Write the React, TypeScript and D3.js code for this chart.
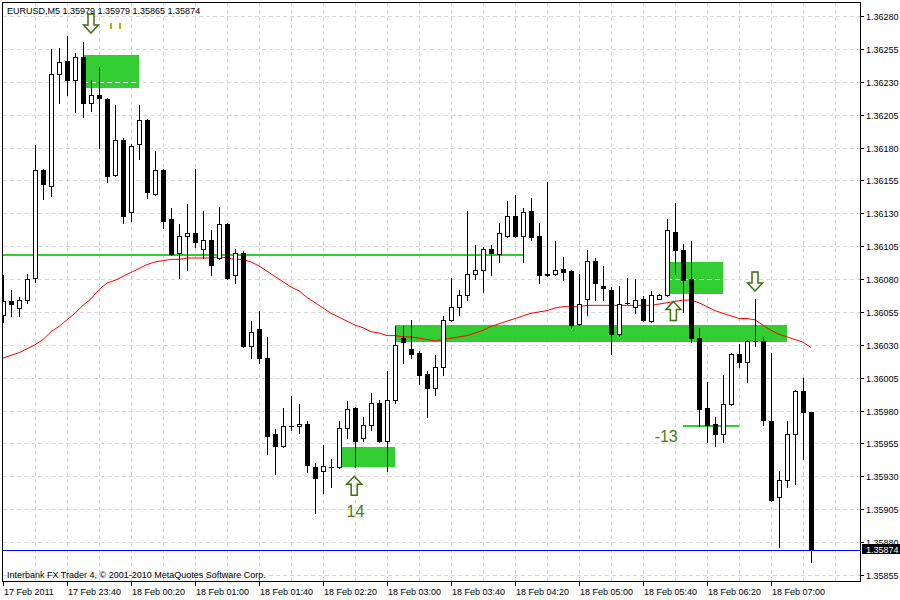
import React from "react";
import * as d3 from "d3";

const symbol = "EURUSD,M5";
const opens = [1.36053,1.36063,1.36058,1.36064,1.36081,1.36163,1.36151,1.36236,1.36246,1.36231,1.36249,1.36214,1.36220,1.36217,1.36159,1.36186,1.36131,1.36183,1.36201,1.36145,1.36163,1.36126,1.36100,1.36113,1.36115,1.36103,1.36110,1.36096,1.36122,1.36083,1.36100,1.36029,1.36042,1.36020,1.35962,1.35953,1.35968,1.35968,1.35970,1.35937,1.35934,1.35937,1.35937,1.35967,1.35982,1.35959,1.35969,1.35986,1.35957,1.35988,1.36035,1.36027,1.36024,1.36008,1.35997,1.36013,1.36049,1.36059,1.36068,1.36084,1.36087,1.36103,1.36099,1.36113,1.36128,1.36113,1.36132,1.36113,1.36084,1.36084,1.36088,1.36086,1.36046,1.36065,1.36094,1.36075,1.36072,1.36038,1.36062,1.36059,1.36065,1.36048,1.36065,1.36068,1.36116,1.36102,1.36080,1.36035,1.35982,1.35970,1.35962,1.35985,1.36023,1.36017,1.36033,1.36033,1.35972,1.35914,1.35927,1.35962,1.35995,1.35979];
const highs = [1.36083,1.36072,1.36066,1.36084,1.36182,1.36164,1.36255,1.36256,1.36265,1.36252,1.36260,1.36231,1.36241,1.36218,1.36212,1.36187,1.36183,1.36212,1.36202,1.36177,1.36164,1.36134,1.36122,1.36137,1.36164,1.36132,1.36117,1.36135,1.36123,1.36103,1.36101,1.36048,1.36056,1.36036,1.35966,1.35982,1.35991,1.35985,1.35972,1.35940,1.35954,1.35943,1.35972,1.35987,1.35983,1.35975,1.35993,1.35988,1.36010,1.36044,1.36044,1.36049,1.36025,1.36010,1.36022,1.36052,1.36081,1.36072,1.36132,1.36106,1.36104,1.36106,1.36123,1.36139,1.36144,1.36134,1.36142,1.36123,1.36154,1.36109,1.36097,1.36087,1.36084,1.36102,1.36096,1.36090,1.36074,1.36075,1.36081,1.36080,1.36067,1.36071,1.36069,1.36126,1.36138,1.36107,1.36109,1.36043,1.36002,1.35975,1.36007,1.36024,1.36031,1.36034,1.36065,1.36036,1.36024,1.35934,1.35972,1.35996,1.36005,1.35979];
const lows = [1.36047,1.36052,1.36052,1.36062,1.36078,1.36141,1.36143,1.36214,1.36220,1.36207,1.36203,1.36208,1.36180,1.36154,1.36158,1.36123,1.36124,1.36171,1.36142,1.36144,1.36119,1.36098,1.36081,1.36087,1.36104,1.36096,1.36083,1.36095,1.36080,1.36077,1.36028,1.36020,1.36016,1.35947,1.35932,1.35952,1.35965,1.35963,1.35933,1.35902,1.35917,1.35922,1.35936,1.35959,1.35937,1.35957,1.35965,1.35956,1.35934,1.35986,1.36016,1.36020,1.36000,1.35975,1.35992,1.36007,1.36048,1.36053,1.36064,1.36080,1.36070,1.36083,1.36093,1.36112,1.36112,1.36093,1.36110,1.36077,1.36082,1.36083,1.36079,1.36043,1.36045,1.36053,1.36064,1.36064,1.36023,1.36037,1.36061,1.36054,1.36048,1.36047,1.36065,1.36067,1.36084,1.36055,1.36032,1.35968,1.35956,1.35953,1.35956,1.35984,1.36013,1.36002,1.36029,1.35969,1.35911,1.35876,1.35922,1.35924,1.35943,1.35865];
const closes = [1.36063,1.36061,1.36064,1.36080,1.36163,1.36152,1.36236,1.36245,1.36231,1.36249,1.36214,1.36220,1.36218,1.36158,1.36186,1.36128,1.36181,1.36201,1.36146,1.36163,1.36124,1.36099,1.36113,1.36115,1.36108,1.36110,1.36091,1.36122,1.36081,1.36100,1.36029,1.36040,1.36020,1.35961,1.35953,1.35968,1.35968,1.35970,1.35939,1.35929,1.35938,1.35937,1.35967,1.35981,1.35957,1.35969,1.35986,1.35957,1.35988,1.36030,1.36032,1.36023,1.36007,1.35997,1.36013,1.36049,1.36059,1.36068,1.36084,1.36087,1.36103,1.36100,1.36115,1.36128,1.36113,1.36131,1.36112,1.36083,1.36083,1.36087,1.36085,1.36045,1.36061,1.36094,1.36077,1.36073,1.36038,1.36061,1.36062,1.36064,1.36049,1.36068,1.36068,1.36117,1.36102,1.36079,1.36035,1.35981,1.35969,1.35962,1.35985,1.36023,1.36017,1.36033,1.36033,1.35973,1.35912,1.35927,1.35962,1.35995,1.35979,1.35874];
const maValues = [1.36020,1.36022,1.36024,1.36027,1.36030,1.36034,1.36040,1.36044,1.36049,1.36054,1.36060,1.36065,1.36072,1.36077,1.36079,1.36082,1.36085,1.36088,1.36091,1.36093,1.36094,1.36095,1.36095,1.36096,1.36096,1.36096,1.36096,1.36097,1.36096,1.36095,1.36095,1.36093,1.36090,1.36086,1.36082,1.36078,1.36074,1.36071,1.36066,1.36062,1.36058,1.36054,1.36051,1.36048,1.36045,1.36043,1.36040,1.36039,1.36037,1.36037,1.36036,1.36036,1.36035,1.36034,1.36033,1.36034,1.36035,1.36036,1.36037,1.36039,1.36041,1.36044,1.36046,1.36048,1.36050,1.36052,1.36054,1.36055,1.36056,1.36058,1.36059,1.36059,1.36059,1.36060,1.36060,1.36060,1.36060,1.36060,1.36060,1.36060,1.36060,1.36060,1.36061,1.36062,1.36063,1.36064,1.36064,1.36062,1.36059,1.36056,1.36054,1.36052,1.36050,1.36050,1.36049,1.36045,1.36041,1.36038,1.36036,1.36034,1.36032,1.36028];

const timeLabels = ["17 Feb 2011","17 Feb 23:40","18 Feb 00:20","18 Feb 01:00","18 Feb 01:40","18 Feb 02:20","18 Feb 03:00","18 Feb 03:40","18 Feb 04:20","18 Feb 05:00","18 Feb 05:40","18 Feb 06:20","18 Feb 07:00"];
const timeLabelIndex = [0,8,16,24,32,40,48,56,64,72,80,88,96];
const priceTicks = [1.36280,1.36255,1.36230,1.36205,1.36180,1.36155,1.36130,1.36105,1.36080,1.36055,1.36030,1.36005,1.35980,1.35955,1.35930,1.35905,1.35880,1.35855];

const zoneStart = [10, 42, 49, 83];
const zoneEnd = [17, 49, 98, 90];
const zoneTop = [1.36250, 1.35952, 1.36045, 1.36093];
const zoneBottom = [1.36225, 1.35937, 1.36032, 1.36069];
const zoneMid = [1.36230, null, null, 1.36080];

const levelPrice = 1.36098, levelFrom = -1, levelTo = 65;
const stopPrice = 1.35968, stopFrom = 85, stopTo = 92;

const arrowIndex = [11, 43.9, 83.8, 94];
const arrowPrice = [1.36267, 1.35930, 1.36063, 1.36071];
const arrowDir = ["down", "up", "up", "down"];
const pipText = ["14", "-13"];
const pipIndex = [44.06, 82.9];
const pipPrice = [1.35899, 1.35956];
const markIndex = [13.5, 14.6];
const markPrice = 1.36275;

const W = 900, H = 600;
const FONT = "'Liberation Sans', Arial, sans-serif";

export default function App() {
  const x = d3.scaleLinear().domain([0, 101]).range([3, 811]);
  const y = d3.scaleLinear().domain([1.35855, 1.3628]).range([575, 16]);
  const left = 2.5, top = 2.5, right = 860.5, bottom = 581.5;
  const px = (v: number) => Math.round(x(v));
  const py = (v: number) => Math.round(y(v));

  const vgrid: number[] = [];
  for (let v = 35; v < 860; v += 32) vgrid.push(v);

  const maLine = d3.line<number>().x((d, i) => x(i)).y((d) => y(d))(maValues) || "";
  const upArrow = "M0,0 L7.5,8 L3,8 L3,19 L-3,19 L-3,8 L-7.5,8 Z";
  const downArrow = "M0,0 L7.5,-8 L3,-8 L3,-19 L-3,-19 L-3,-8 L-7.5,-8 Z";
  const n = closes.length;
  const last = n - 1;
  const fmt = d3.format(".5f");
  const title = `${symbol}  ${fmt(opens[last])} ${fmt(highs[last])} ${fmt(lows[last])} ${fmt(closes[last])}`;
  const bidY = py(closes[last]);

  return (
    <svg width={W} height={H} style={{ position: "fixed", left: 0, top: 0, background: "#fff" }} fontFamily={FONT}>
      <rect x={0} y={0} width={W} height={H} fill="#fff" />
      <defs>
        <clipPath id="plot">
          <rect x={3} y={3} width={857} height={578} />
        </clipPath>
      </defs>
      {/* grid */}
      <g stroke="#d9d9d9" strokeWidth={1} strokeDasharray="4,3" shapeRendering="crispEdges">
        {vgrid.map((v) => (
          <line key={"v" + v} x1={v + 0.5} x2={v + 0.5} y1={top} y2={bottom} />
        ))}
        {priceTicks.map((p) => (
          <line key={"h" + p} x1={left} x2={right} y1={py(p) + 0.5} y2={py(p) + 0.5} />
        ))}
      </g>
      <g clipPath="url(#plot)">
        {/* zones */}
        {zoneStart.map((s, i) => (
          <rect key={"z" + i} x={px(s)} y={py(zoneTop[i])} width={px(zoneEnd[i]) - px(s)}
            height={py(zoneBottom[i]) - py(zoneTop[i])} fill="#32cd32" />
        ))}
        {zoneMid.map((m, i) =>
          m === null ? null : (
            <line key={"zm" + i} x1={px(zoneStart[i])} x2={px(zoneEnd[i])} y1={py(m) + 0.5} y2={py(m) + 0.5}
              stroke="#fff" strokeDasharray="5,3" shapeRendering="crispEdges" />
          )
        )}
        <line x1={x(levelFrom)} x2={x(levelTo)} y1={py(levelPrice)} y2={py(levelPrice)} stroke="#32cd32" strokeWidth={2} shapeRendering="crispEdges" />
        <line x1={x(stopFrom)} x2={x(stopTo)} y1={py(stopPrice)} y2={py(stopPrice)} stroke="#32cd32" strokeWidth={2} shapeRendering="crispEdges" />
        {/* moving average */}
        <path d={maLine} fill="none" stroke="#ff0000" strokeWidth={1} />
        {/* candles */}
        <g shapeRendering="crispEdges">
          {closes.map((c, i) => {
            const o = opens[i];
            const cx = px(i);
            const yh = py(highs[i]);
            const yl = py(lows[i]);
            const yt = py(Math.max(o, c));
            const yb = py(Math.min(o, c));
            const bull = c > o;
            return (
              <g key={"c" + i}>
                <line x1={cx + 0.5} x2={cx + 0.5} y1={yh} y2={yl + 1} stroke="#000" strokeWidth={1} />
                {yb - yt < 1 ? (
                  <line x1={cx - 2} x2={cx + 3} y1={yt + 0.5} y2={yt + 0.5} stroke="#000" strokeWidth={1} />
                ) : (
                  <rect x={cx - 2 + 0.5} y={yt + 0.5} width={4} height={yb - yt}
                    fill={bull ? "#fff" : "#000"} stroke="#000" strokeWidth={1} />
                )}
              </g>
            );
          })}
        </g>
        {/* bid line */}
        <line x1={left} x2={right} y1={bidY + 0.5} y2={bidY + 0.5} stroke="#0000ff" strokeWidth={1} shapeRendering="crispEdges" />
        {/* arrows */}
        {arrowIndex.map((a, i) => (
          <g key={"a" + i} transform={`translate(${x(a)},${y(arrowPrice[i])})`}>
            <path d={arrowDir[i] === "up" ? upArrow : downArrow} fill="#fff" stroke="#3f6f10" strokeWidth={1.5} strokeLinejoin="miter" />
          </g>
        ))}
        {markIndex.map((m, i) => (
          <rect key={"m" + i} x={px(m) - 1} y={py(markPrice)} width={2} height={6} fill="#b5b500" />
        ))}
        {pipText.map((t, i) => (
          <text key={"p" + i} x={x(pipIndex[i])} y={y(pipPrice[i])} textAnchor="middle" fontSize={16} fill="#4e7a0c">
            {t}
          </text>
        ))}
      </g>
      {/* title & footer */}
      <text x={7} y={14} fontSize={9} fill="#000">{title}</text>
      <text x={7} y={578} fontSize={9} fill="#000">Interbank FX Trader 4, © 2001-2010 MetaQuotes Software Corp.</text>
      {/* frame */}
      <rect x={left} y={top} width={right - left} height={bottom - top} fill="none" stroke="#000" strokeWidth={1} shapeRendering="crispEdges" />
      {/* y axis */}
      <g fontSize={9} fill="#000">
        {priceTicks.map((p) => (
          <g key={"yt" + p}>
            <line x1={right} x2={864} y1={py(p) + 0.5} y2={py(p) + 0.5} stroke="#000" shapeRendering="crispEdges" />
            <text x={866} y={py(p) + 3.5}>{fmt(p)}</text>
          </g>
        ))}
      </g>
      <rect x={862} y={bidY - 6} width={38} height={10} fill="#000" />
      <text x={866} y={bidY + 3} fontSize={9} fill="#fff">{fmt(closes[last])}</text>
      {/* x axis */}
      <g fontSize={9} fill="#000">
        {timeLabelIndex.map((t, i) => (
          <g key={"xt" + i}>
            <line x1={px(t) + 0.5} x2={px(t) + 0.5} y1={bottom} y2={586} stroke="#000" shapeRendering="crispEdges" />
            <text x={px(t) + 1} y={595}>{timeLabels[i]}</text>
          </g>
        ))}
      </g>
    </svg>
  );
}
